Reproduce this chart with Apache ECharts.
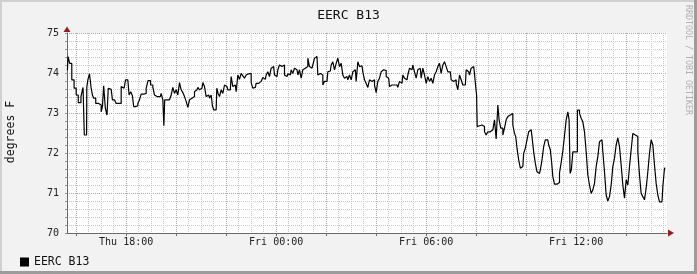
<!DOCTYPE html>
<html>
<head>
<meta charset="utf-8">
<script src="https://cdn.jsdelivr.net/npm/echarts@6/dist/echarts.min.js"></script>
<style>
html,body{margin:0;padding:0;background:#f2f2f2;}
#c{width:697px;height:274px;}
</style>
</head>
<body>
<div id="c"></div>
<script>
// Time in minutes since Thu 00:00 ; temperature in degrees F
const times = [939,942,947,952,958,962,968,975,978,981,985,986,990,994,998,1000,1004,1010,1018,1022,1024,1028,1032,1036,1038,1044,1050,1054,1058,1066,1070,1075,1082,1086,1088,1094,1096,1100,1106,1110,1114,1118,1126,1130,1135,1142,1146,1150,1154,1162,1166,1170,1171,1174,1182,1186,1190,1194,1198,1202,1206,1210,1214,1218,1222,1226,1230,1234,1238,1242,1246,1250,1254,1258,1262,1266,1270,1274,1278,1282,1286,1288,1292,1296,1299,1302,1306,1310,1314,1318,1322,1326,1330,1334,1338,1342,1346,1350,1354,1358,1362,1366,1370,1374,1378,1382,1386,1390,1394,1402,1406,1410,1414,1418,1422,1426,1430,1434,1438,1442,1446,1450,1454,1458,1462,1466,1470,1474,1478,1482,1486,1490,1494,1498,1502,1506,1510,1514,1518,1522,1526,1530,1534,1538,1542,1546,1550,1554,1558,1562,1566,1570,1574,1578,1582,1586,1590,1594,1598,1602,1606,1610,1614,1618,1622,1626,1630,1634,1638,1642,1646,1650,1654,1658,1662,1666,1670,1674,1678,1682,1686,1690,1694,1698,1702,1706,1710,1714,1718,1722,1726,1730,1734,1738,1742,1746,1750,1754,1758,1762,1766,1770,1774,1778,1782,1786,1790,1794,1798,1802,1806,1810,1814,1818,1822,1826,1830,1834,1838,1842,1846,1850,1854,1858,1862,1866,1870,1874,1878,1882,1886,1890,1894,1898,1902,1906,1910,1914,1917,1920,1922,1923,1928,1934,1938,1942,1946,1950,1954,1958,1962,1966,1970,1974,1976,1982,1986,1990,1994,1998,2002,2006,2010,2014,2016,2020,2024,2028,2032,2036,2040,2044,2048,2052,2056,2060,2064,2068,2072,2076,2080,2084,2088,2092,2096,2100,2102,2106,2110,2114,2118,2122,2126,2130,2134,2138,2142,2144,2147,2150,2154,2160,2166,2170,2174,2178,2182,2186,2190,2194,2198,2202,2206,2210,2214,2218,2222,2226,2230,2234,2238,2242,2246,2250,2254,2258,2262,2266,2270,2274,2278,2282,2286,2290,2294,2298,2302,2306,2310,2314,2318,2322,2326,2330,2334,2338,2342,2346,2350,2354,2358,2362,2366,2370,2374];
const temps = [74.07,74.41,74.24,73.83,73.62,73.45,73.26,73.41,73.64,72.45,72.45,73.64,73.83,73.98,73.62,73.45,73.37,73.24,73.20,73.03,73.16,73.68,73.12,72.95,73.62,73.59,73.33,73.37,73.24,73.24,73.66,73.62,73.83,73.83,73.45,73.53,73.43,73.16,73.18,73.24,73.33,73.47,73.49,73.62,73.81,73.70,73.64,73.45,73.41,73.41,73.49,73.33,72.68,73.33,73.33,73.37,73.45,73.64,73.49,73.58,73.45,73.76,73.58,73.51,73.41,73.29,73.14,73.33,73.37,73.41,73.53,73.58,73.64,73.58,73.62,73.76,73.66,73.41,73.45,73.37,73.45,73.18,73.08,73.08,73.62,73.49,73.41,73.58,73.49,73.70,73.66,73.58,73.58,73.91,73.66,73.70,73.53,73.95,73.84,73.99,73.93,73.87,73.95,73.98,73.99,73.76,73.62,73.64,73.74,73.79,73.83,73.89,73.84,73.95,74.03,73.91,74.12,74.16,73.95,73.91,74.08,74.20,74.16,74.20,73.95,73.91,73.98,73.95,74.08,73.99,74.12,74.08,73.95,74.08,73.87,74.08,74.12,74.16,74.37,74.16,74.12,74.20,74.37,74.41,73.95,73.99,73.95,73.70,73.79,73.79,74.03,74.05,74.20,74.28,74.08,74.24,74.37,74.16,74.24,73.95,73.87,73.91,73.83,73.95,73.83,74.03,74.08,73.79,74.28,74.16,74.18,74.03,73.83,73.74,73.64,73.83,73.79,73.83,73.70,73.51,73.79,73.87,74.03,74.08,74.06,73.91,73.87,73.66,73.70,73.70,73.74,73.70,73.64,73.79,73.74,73.95,73.87,73.83,73.95,74.12,74.08,74.20,74.03,73.87,74.08,74.12,73.87,74.12,73.95,73.74,73.91,73.79,73.87,73.74,73.95,74.03,74.16,74.24,73.99,74.20,74.28,74.16,74.03,74.03,73.83,73.79,73.83,73.74,73.58,73.95,73.83,73.70,73.70,74.08,74.03,73.95,74.12,74.16,74.03,73.70,73.45,72.66,72.68,72.70,72.66,72.53,72.45,72.53,72.53,72.58,72.62,72.83,72.35,73.20,72.83,72.62,72.45,72.62,72.83,72.91,72.95,72.99,72.70,72.49,72.41,72.12,71.83,71.62,71.66,71.99,72.12,72.33,72.53,72.58,72.41,72.03,71.74,71.53,71.49,71.58,71.83,72.16,72.33,72.33,72.20,72.08,71.78,71.41,71.22,71.22,71.26,71.50,71.76,72.05,72.43,72.83,73.03,72.83,71.49,71.58,72.03,72.03,73.07,72.99,72.87,72.78,72.53,72.03,71.45,71.20,70.99,71.08,71.24,71.66,71.91,72.28,72.33,72.03,71.53,70.95,70.80,70.91,71.20,71.66,71.87,72.20,72.38,72.16,71.70,71.20,70.87,71.33,71.20,71.66,72.08,72.49,72.45,72.41,72.03,71.45,70.99,70.91,70.83,71.12,71.53,71.99,72.33,72.20,71.70,71.24,70.95,70.78,70.78,71.16,71.62];

const tickMinutes = [1080, 1440, 1800, 2160];
const tickLabels = ['Thu 18:00', 'Fri 00:00', 'Fri 06:00', 'Fri 12:00'];
const seriesName = 'EERC B13';
const axStart = 938, axEnd = 2378;

const cats = [];
for (let m = axStart; m <= axEnd; m++) cats.push(String(m));
const data = times.map((t, i) => [String(t), temps[i]]);

const MONO = '"DejaVu Sans Mono", monospace';
const minorC = '#c8c8c8';
const majorC = '#ec8c8c';
const axisC = '#6a6a6a';
const arrowC = '#961c1c';

const chart = echarts.init(document.getElementById('c'), null, {renderer: 'canvas'});
chart.setOption({
  animation: false,
  backgroundColor: '#f2f2f2',
  title: {
    text: seriesName, left: 'center', top: 4,
    textStyle: {fontFamily: MONO, fontSize: 13, fontWeight: 'normal', color: '#111'}
  },
  legend: {
    left: 15, top: 251, itemWidth: 9, itemHeight: 9, icon: 'rect',
    textStyle: {fontFamily: MONO, fontSize: 11.5, color: '#111'},
    data: [seriesName]
  },
  grid: {left: 67, top: 33, width: 600, height: 200, show: true, backgroundColor: '#ffffff', borderWidth: 0},
  xAxis: [
    {
      type: 'category', data: cats, boundaryGap: false, position: 'bottom',
      axisLine: {show: true, lineStyle: {color: axisC, width: 1}},
      axisTick: {show: true, interval: (i, v) => (+v) % 120 === 0, length: 3, lineStyle: {color: axisC}},
      axisLabel: {
        interval: (i, v) => tickMinutes.indexOf(+v) >= 0,
        formatter: v => tickLabels[tickMinutes.indexOf(+v)] || '',
        fontFamily: MONO, fontSize: 10, color: '#222', margin: 4
      },
      splitLine: {show: true, interval: (i, v) => (+v) % 30 === 0,
        lineStyle: {color: [majorC, minorC, minorC, minorC], width: 1, type: [1, 1]}}
    }
  ],
  yAxis: [
    {
      type: 'value', min: 70, max: 75, interval: 0.2, position: 'left',
      axisLine: {show: true, lineStyle: {color: axisC, width: 1}},
      axisTick: {show: true, length: 2, lineStyle: {color: '#999'}},
      axisLabel: {
        formatter: v => (Math.abs(v - Math.round(v)) < 1e-6 ? String(Math.round(v)) : ''),
        fontFamily: MONO, fontSize: 10, color: '#222', margin: 8
      },
      splitLine: {show: true, lineStyle: {color: [majorC, minorC, minorC, minorC, minorC], width: 1, type: [1, 1]}}
    }
  ],
  series: [{
    name: seriesName, type: 'line', xAxisIndex: 0, yAxisIndex: 0,
    data: data, step: 'middle', symbol: 'none', showSymbol: false,
    color: '#000', lineStyle: {color: '#000', width: 1.2}, z: 5
  }],
  graphic: [
    {type: 'rect', shape: {x: 0, y: 0, width: 697, height: 2}, style: {fill: '#d0d0d0'}, z: 100},
    {type: 'rect', shape: {x: 0, y: 0, width: 2, height: 274}, style: {fill: '#d0d0d0'}, z: 100},
    {type: 'rect', shape: {x: 694, y: 0, width: 3, height: 274}, style: {fill: '#9c9c9c'}, z: 100},
    {type: 'rect', shape: {x: 0, y: 271, width: 697, height: 3}, style: {fill: '#9c9c9c'}, z: 100},
    {type: 'polygon', shape: {points: [[67, 26.5], [63.5, 32], [70.5, 32]]}, style: {fill: arrowC}, z: 100},
    {type: 'polygon', shape: {points: [[674, 233], [668, 229.5], [668, 236.5]]}, style: {fill: arrowC}, z: 100},
    {type: 'text', x: 11, y: 132, rotation: Math.PI / 2,
      style: {text: 'degrees F', font: '11.5px ' + MONO, fill: '#111', align: 'center', verticalAlign: 'middle'}, z: 100},
    {type: 'text', x: 688, y: 60, rotation: -Math.PI / 2,
      style: {text: 'RRDTOOL / TOBI OETIKER', font: '8.3px ' + MONO, fill: '#b0b0b0', align: 'center', verticalAlign: 'middle'}, z: 100}
  ]
});
</script>
</body>
</html>
